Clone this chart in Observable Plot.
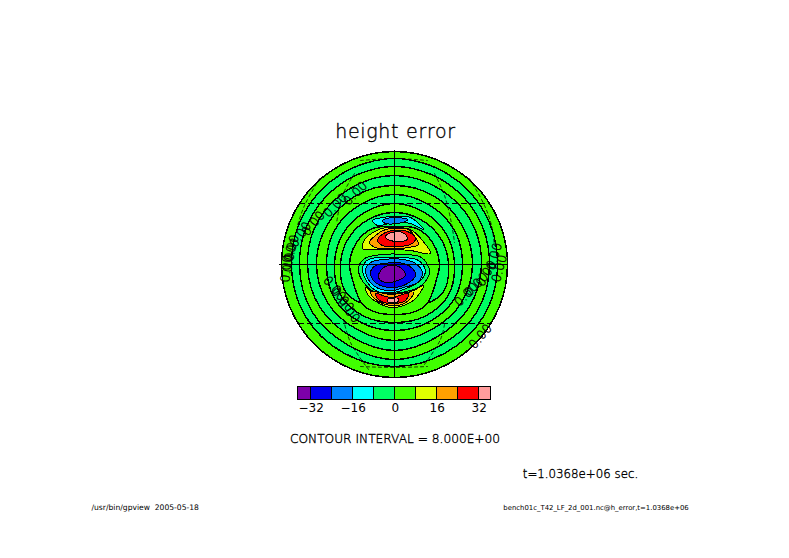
<!DOCTYPE html>
<html><head><meta charset="utf-8">
<script src="https://cdn.jsdelivr.net/npm/d3@7"></script>
<script src="https://cdn.jsdelivr.net/npm/@observablehq/plot@0.6"></script>
<style>
html,body{margin:0;padding:0;background:#fff;width:789px;height:558px;overflow:hidden}
#wrap{position:relative;width:789px;height:558px}
#wrap svg{position:absolute;left:0}
</style></head><body><div id="wrap"></div>
<script>
// height error levels
const colorBreaks = [-32,-24,-16,-8,0,8,16,24,32];
const colorBands = ["#7c00a8","#0000f0","#0084ff","#00ffff","#00ff64","#40ff00","#e0ff00","#ffa000","#ff0000","#ff9c9c"];
const barEdges = [-37,-32,-24,-16,-8,0,8,16,24,32,36.6];
const barTicks = [-32,-16,0,16,32];

// band rings: distance from the disk centre at each bearing
const bearings = [0,30,60,90,120,150,180,210,240,270,300,330];
const ringA = [106,105,104,103,103,102,102,102,103,103,104,105];
const ringB = [98,97,96,95,95,93,95,93,95,95,96,97];
const ringC = [89,88,88,87,86,84,86,84,86,87,88,88];
const ringD = [79,79,78,78,77,75,76,75,77,78,78,79];
const ringE = [70,69,69,68,69,67,66,67,69,68,69,69];
const ringF = [61,60,60,60,62,60,58,60,62,60,60,60];
const ringG = [52,52,53,54,56,48,40,48,56,54,53,52];

// anomalies, as [east, north] map points
const innerH = [[0,38],[22,36],[38,22],[45,0],[42,-15],[38,-28],[32,-40],[18,-48],[0,-50],[-18,-48],[-32,-40],[-38,-28],[-42,-15],[-45,0],[-38,22],[-22,36]];
const capS = [[-36,-4],[-30,6],[-12,10],[10,10],[27,7],[35,-6],[30,-18],[16,-26],[-18,-28],[-31,-18]];
const topCyan = [[-22,44],[-12,47],[-1,48],[16,47],[29,35],[16,41],[-1,42],[-17,39]];
const topBlue = [[-12,44],[-1,47],[13,45],[8,42],[-9,41]];
const topYellow = [[-32,16],[-29,26],[-13,36],[-1,37],[16,35],[28,24],[36,11],[16,14],[-1,15],[-21,15]];
const topOrange = [[-25,22],[-19,29],[-9,35],[1,36],[14,35],[21,27],[24,20],[14,17],[1,16],[-19,17]];
const topRed = [[-17,24],[-11,31],[-1,34],[13,33],[21,26],[16,20],[-1,18],[-12,19]];
const topPink = [[-9,27],[-6,31],[8,32],[13,26],[8,23],[-4,24]];
const lowCyan = [[-32,-3],[-26,5],[-11,7],[9,7],[24,4],[31,-6],[26,-16],[14,-23],[-1,-28],[-17,-27],[-27,-18]];
const lowAzure = [[-29,-6],[-24,2],[-11,5],[9,5],[21,1],[28,-8],[23,-18],[9,-23],[-1,-26],[-16,-24],[-24,-18]];
const lowBlue = [[-24,-8],[-19,-1],[-11,1],[9,1],[18,-4],[21,-11],[13,-19],[-1,-23],[-14,-21],[-21,-16]];
const lowPurple = [[-16,-11],[-11,-3],[-4,-1],[6,-3],[11,-11],[3,-16],[-7,-18],[-14,-16]];
const southYellow = [[-29,-23],[-21,-28],[-1,-31],[19,-26],[29,-21],[21,-34],[9,-41],[-4,-43],[-17,-38],[-26,-31]];
const southOrange = [[-24,-27],[-4,-30],[19,-28],[14,-36],[3,-41],[-12,-39],[-21,-33]];
const southRed = [[-19,-29],[-4,-33],[14,-29],[11,-36],[1,-39],[-11,-38],[-17,-34]];
const southPink = [[-7,-35],[4,-34],[4,-37],[-6,-38]];

// thin dashed contours
const dashNE1 = [[40,91],[50,69],[57,41],[60,22]];
const dashNE2 = [[75,86],[90,59],[97,39],[100,19]];
const dashNW1 = [[-40,91],[-52,69],[-58,41]];
const dashNW2 = [[-75,86],[-90,59],[-97,39]];
const dashSW = [[-51,-55],[-44,-78],[-26,-105]];
const dashSE = [[50,-60],[46,-75],[30,-100]];
const dashN = [[-34,104],[0,106],[33,104]];
const dashS = [[-34,-102],[0,-103],[33,-102]];

// contour labels
const labelEast = [-39,-59,-81,-94,-103,-105,-108,-60,-52,-46,72,82,92,100,105,86];
const labelNorth = [71,59,41,30,16,6,-4,-24,-35,-46,-30,-20,-9,8,-4,-72];
const labelAngle = [-45,-45,-50,-55,-75,-80,-85,50,50,50,-45,-45,-60,-75,-75,-50];
const labelText = labelEast.map(() => "0.00");

const parallels = [61,-59];
const parallelHalf = [95,96];
const diskRadius = [113];

const rings = [ringA,ringB,ringC,ringD,ringE,ringF,ringG].map((radii,i) => ({
  level: i % 2 === 0 ? -4 : 4,
  pts: radii.map((r,j) => [r*Math.sin(bearings[j]*Math.PI/180), r*Math.cos(bearings[j]*Math.PI/180)])
}));
const toRows = list => list.flatMap((b,id) => b.pts.map(p => ({id,level:b.level,x:p[0],y:p[1]})));
const ringRows = toRows([...rings,{level:4,pts:innerH}]);
const blobRows = toRows([
  {level:-4,pts:capS},
  {level:-12,pts:topCyan},{level:-20,pts:topBlue},
  {level:12,pts:topYellow},{level:20,pts:topOrange},{level:28,pts:topRed},{level:36,pts:topPink},
  {level:-12,pts:lowCyan},{level:-20,pts:lowAzure},{level:-28,pts:lowBlue},{level:-36,pts:lowPurple},
  {level:12,pts:southYellow},{level:20,pts:southOrange},{level:28,pts:southRed},{level:36,pts:southPink}
]);
const dashes = [dashNE1,dashNE2,dashNW1,dashNW2,dashSW,dashSE,dashN,dashS]
  .flatMap((d,id) => d.map(p => ({id,x:p[0],y:p[1]})));
const labels = labelEast.map((x,i) => ({x,y:labelNorth[i],a:labelAngle[i],t:labelText[i]}));
const color = {type:"threshold",domain:colorBreaks,range:colorBands};
const font = "DejaVu Sans";
const note = (text,dx,dy,fontSize,textAnchor="middle",fontWeight=200,strokeWidth=0.35) =>
  Plot.text([text],{frameAnchor:"top-left",lineAnchor:"middle",dx,dy,fontSize,textAnchor,fontWeight,fontFamily:font,fill:"#000",stroke:"#000",strokeWidth});

const main = Plot.plot({
  width:789,height:558,margin:0,
  style:"background:#fff;shape-rendering:crispEdges",
  x:{domain:[-394,395],range:[0,789],axis:null},
  y:{domain:[264,-294],range:[0,558],axis:null},
  r:{type:"linear",domain:[0,113],range:[0,113]},
  color,
  marks:[
    Plot.dot(diskRadius,{x:()=>0,y:()=>0,r:d=>d,fill:()=>4,stroke:"#000",strokeWidth:1.5}),
    Plot.line(ringRows,{x:"x",y:"y",z:"id",fill:"level",stroke:"#000",strokeWidth:1.4,curve:"catmull-rom-closed"}),
    Plot.line(blobRows,{x:"x",y:"y",z:"id",fill:"level",stroke:"#000",strokeWidth:1,curve:"catmull-rom-closed"}),
    Plot.line(dashes,{x:"x",y:"y",z:"id",stroke:"#000",strokeWidth:0.8,strokeDasharray:"3,3",curve:"catmull-rom"}),
    Plot.ruleY(parallels,{y:d=>d,x1:(d,i)=>-parallelHalf[i],x2:(d,i)=>parallelHalf[i],stroke:"#000",strokeDasharray:"6,3"}),
    Plot.ruleX([0],{y1:114,y2:-113,stroke:"#000",strokeWidth:1}),
    Plot.ruleY([0],{x1:-115,x2:114,stroke:"#000",strokeWidth:1}),
    Plot.text(labels,{x:"x",y:"y",text:"t",rotate:"a",fontSize:12.5,fontWeight:200,fontFamily:font,fill:"#000",stroke:"#000",strokeWidth:0.35}),
    note("height error",395,131,19),
    note("CONTOUR INTERVAL = 8.000E+00",394.5,439,12.2),
    note("t=1.0368e+06 sec.",580,474,11.8),
    note("/usr/bin/gpview  2005-05-18",91,507,7.6,"start",400,0),
    note("bench01c_T42_LF_2d_001.nc@h_error,t=1.0368e+06",595.5,507,6.9,"middle",400,0)
  ]
});
main.querySelectorAll("text").forEach(t => {
  if (t.textContent === "height error") t.style.letterSpacing = "0.7px";
});

const bar = Plot.plot({
  width:789,height:40,marginLeft:0,marginRight:0,marginTop:6,marginBottom:20.5,
  style:"background:transparent;shape-rendering:crispEdges",
  x:{domain:[-394.7/2.625,(789-394.7)/2.625],range:[0,789],axis:null},
  y:{domain:[0,1],axis:null},
  color,
  marks:[
    Plot.rect(colorBands,{x1:(d,i)=>barEdges[i],x2:(d,i)=>barEdges[i+1],y1:()=>0,y2:()=>1,fill:(d,i)=>(barEdges[i]+barEdges[i+1])/2,stroke:"#000"}),
    Plot.axisX({ticks:barTicks,tickSize:0,tickPadding:3,fontSize:12,fontFamily:font,fill:"#000",tickFormat:d=>d<0?"\u2212"+(-d):String(d)})
  ]
});
bar.style.top="380px";
const wrap=document.getElementById("wrap");
main.style.top="0";
wrap.append(main,bar);
</script></body></html>
